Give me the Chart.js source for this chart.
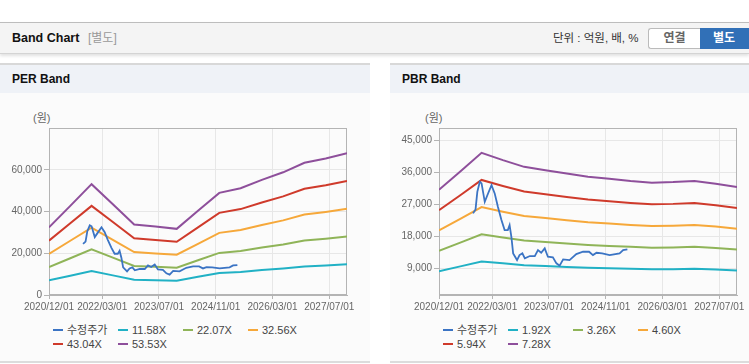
<!DOCTYPE html>
<html><head><meta charset="utf-8">
<script src="https://cdn.jsdelivr.net/npm/chart.js@4.4.1/dist/chart.umd.min.js"></script>
<style>
html,body{margin:0;padding:0;background:#fff;width:749px;height:364px;overflow:hidden;font-family:"Liberation Sans","Noto Sans CJK KR",sans-serif;}
#topbar{position:absolute;left:0;top:22px;width:749px;height:30px;background:#f4f4f4;border-top:1px solid #bdbdbd;border-bottom:1px solid #d4d4d4;box-shadow:0 2px 3px rgba(0,0,0,0.12);}
.title{position:absolute;left:12px;top:0;line-height:30px;font-size:12.5px;font-weight:bold;color:#111;}
.sub{position:absolute;left:88px;top:0;line-height:30px;font-size:12px;color:#999;}
.unit{position:absolute;left:553px;top:0;line-height:30px;font-size:11.5px;color:#333;}
.btn1{position:absolute;left:648px;top:5px;width:51px;height:19px;border:1px solid #bbb;border-right:none;border-radius:3px 0 0 3px;background:#fff;color:#666;font-weight:bold;font-size:12px;text-align:center;line-height:19px;}
.btn2{position:absolute;left:700px;top:5px;width:54px;height:21px;background:#3170b7;color:#fff;font-weight:bold;font-size:12px;text-align:center;line-height:21px;padding-right:6px;box-sizing:border-box;}
.panel{position:absolute;top:63px;width:370px;height:296px;background:#fbfbfb;border-top:2px solid #d8d8d8;border-bottom:2px solid #dcdcdc;overflow:hidden;}
.phead{position:absolute;left:0;top:0;width:370px;height:28px;background:#eff2f7;font-weight:bold;font-size:12px;line-height:28px;color:#111;}
.phead span{padding-left:12px;}
.panel canvas{position:absolute;left:0;top:28px;}
.unitlab{position:absolute;top:46px;font-size:11px;line-height:14px;color:#666;}
.lg{position:absolute;font-size:11px;line-height:14px;color:#444;white-space:nowrap;}
.lg i{position:absolute;left:0;top:6px;width:10px;height:2px;}
.lg span{position:absolute;left:14px;top:0;}
</style></head>
<body>
<div id="topbar">
  <div class="title">Band Chart</div>
  <div class="sub">[별도]</div>
  <div class="unit">단위 : 억원, 배, %</div>
  <div class="btn1">연결</div>
  <div class="btn2">별도</div>
</div>
<div class="panel" id="p1" style="left:0">
  <div class="phead"><span>PER Band</span></div>
  <div class="unitlab" style="left:33px">(원)</div>
  <canvas id="c1" width="370" height="227"></canvas>
</div>
<div class="panel" id="p2" style="left:390px">
  <div class="phead"><span>PBR Band</span></div>
  <div class="unitlab" style="left:35px">(원)</div>
  <canvas id="c2" width="370" height="227"></canvas>
</div>
<script>
// ---- data ----
const xTickMonths = [0, 15, 31, 47, 63, 79];   // months since 2020/12
const xTickLabels = ['2020/12/01','2022/03/01','2023/07/01','2024/11/01','2026/03/01','2027/07/01'];

const priceMonths = [9.6,10.3,10.8,11.5,12.0,12.9,13.8,14.8,15.7,16.6,17.6,18.5,19.4,19.9,20.4,20.9,22.0,22.7,23.5,24.2,25.6,27.0,27.9,28.8,29.8,30.7,32.1,33.1,34.0,35.0,36.8,38.7,40.6,42.3,43.4,44.4,46.0,48.1,50.9,51.9,53.1];
const priceValues = [24470,25600,30540,33360,32900,27730,30000,32430,30090,26330,22580,19770,19770,21180,17890,13220,11330,12740,13220,11810,12460,12460,14150,13390,14620,12260,12090,10410,9730,11530,11330,13020,13670,13670,12740,13390,13200,12740,13220,14150,14340];

const bandMonths = [0,6,12,18,24,30,36,42,48,54,60,66,72,78,84];

const perLabels = ['수정주가','11.58X','22.07X','32.56X','43.04X','53.53X'];
const per1158 = [7006,9241,11487,9403,7307,7087,6855,8720,10584,11070,11927,12715,13699,14151,14683];
const per2207 = [13352,17612,21893,17921,13926,13507,13065,16619,20172,21099,22732,24233,26109,26970,27985];
const per3256 = [19699,25983,32300,26439,20545,19927,19276,24518,29760,31127,33537,35751,38518,39788,41286];
const per4304 = [26039,34346,42696,34948,27158,26340,25480,32409,39339,41146,44331,47258,50916,52595,54575];
const per5353 = [32386,42717,53102,43466,33777,32760,31690,40308,48926,51175,55136,58776,63326,65414,67876];
const perYTicks = [0,20000,40000,60000];

const pbrLabels = ['수정주가','1.92X','3.26X','4.60X','5.94X','7.28X'];
const pbr192 = [8206,9562,10950,10406,9907,9658,9408,9178,9024,8861,8736,8774,8861,8659,8410];
const pbr326 = [13933,16235,18592,17669,16822,16398,15974,15583,15322,15045,14833,14898,15045,14703,14279];
const pbr460 = [19660,22908,26234,24932,23736,23138,22540,21988,21620,21229,20930,21022,21229,20746,20148];
const pbr594 = [25388,29581,33876,32195,30650,29878,29106,28393,27918,27413,27027,27146,27413,26789,26017];
const pbr728 = [31115,36254,41518,39458,37565,36618,35672,34798,34216,33597,33124,33270,33597,32833,31886];
const pbrYTicks = [9000,18000,27000,36000,45000];

// ---- styles ----
const colors = ['#3b74c4','#21b1c5','#8fb458','#f6a83a','#cf3a2b','#8e4f9b'];

function pts(xs, ys){ return xs.map((x,i)=>({x:x, y:ys[i]})); }

const framePlugin = {
  id:'frame',
  beforeDatasetsDraw(chart){
    const {ctx, chartArea:a} = chart;
    ctx.save();
    ctx.strokeStyle = '#b4b4b4';
    ctx.lineWidth = 1;
    ctx.strokeRect(Math.round(a.left)+0.5, Math.round(a.top)+0.5, Math.round(a.right-a.left)-1, Math.round(a.bottom-a.top)-1);
    ctx.restore();
  }
};

function makeChart(id, labels, bands, yMin, yMax, yTicks){
  const series = [pts(priceMonths, priceValues)].concat(bands.map(b=>pts(bandMonths,b)));
  const datasets = series.map((d,i)=>({
    label: labels[i], data: d, borderColor: colors[i], backgroundColor: colors[i],
    borderWidth: i===0 ? 1.8 : 2, pointRadius: 0, tension: 0, fill:false
  }));
  const tickFont = {family:'"Liberation Sans", "Noto Sans CJK KR", sans-serif', size:10};
  return new Chart(document.getElementById(id), {
    type:'line',
    data:{datasets},
    plugins:[framePlugin],
    options:{
      responsive:false, animation:false, devicePixelRatio:1,
      layout:{padding:{top:35,right:23,bottom:0,left:0}},
      plugins:{legend:{display:false}, tooltip:{enabled:false}},
      scales:{
        x:{type:'linear', min:0, max:84,
          afterBuildTicks:(s)=>{ s.ticks = xTickMonths.map(v=>({value:v})); },
          afterFit:(s)=>{ s.height = 25; },
          ticks:{autoSkip:false, maxRotation:0, color:'#666', font:tickFont, padding:2,
            callback:(v)=>{ const k = xTickMonths.indexOf(v); return k>=0 ? xTickLabels[k] : ''; }},
          grid:{color:'#e7e7e7', tickLength:4, tickColor:'#b4b4b4'},
          border:{color:'#b4b4b4'}
        },
        y:{type:'linear', min:yMin, max:yMax,
          afterBuildTicks:(s)=>{ s.ticks = yTicks.map(v=>({value:v})); },
          afterFit:(s)=>{ s.width = 49; },
          ticks:{color:'#666', font:tickFont, padding:2,
            callback:(v)=>v.toLocaleString('en-US')},
          grid:{color:'#e7e7e7', tickLength:5, tickColor:'#b4b4b4'},
          border:{color:'#b4b4b4'}
        }
      }
    }
  });
}

function makeLegend(panelId, chart){
  const panel = document.getElementById(panelId);
  chart.data.datasets.forEach((ds,i)=>{
    const col = i % 4, row = Math.floor(i/4);
    const d = document.createElement('div');
    d.className = 'lg';
    d.style.left = (53 + col*65) + 'px';
    d.style.top = (258 + row*13.5) + 'px';
    const m = document.createElement('i'); m.style.background = ds.borderColor;
    const t = document.createElement('span'); t.textContent = ds.label;
    d.appendChild(m); d.appendChild(t);
    panel.appendChild(d);
  });
}

const ch1 = makeChart('c1', perLabels, [per1158,per2207,per3256,per4304,per5353], 0, 80000, perYTicks);
const ch2 = makeChart('c2', pbrLabels, [pbr192,pbr326,pbr460,pbr594,pbr728], 1500, 48500, pbrYTicks);
makeLegend('p1', ch1);
makeLegend('p2', ch2);
</script>
</body></html>
